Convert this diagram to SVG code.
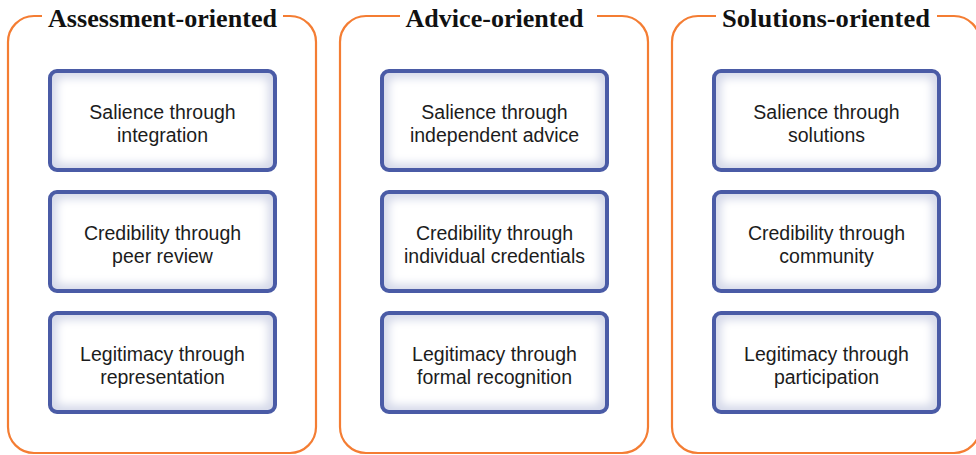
<svg xmlns="http://www.w3.org/2000/svg" width="976" height="455" viewBox="0 0 976 455">
  <style>
    .panel { fill: none; stroke: #f47d33; stroke-width: 2.2; }
    .title { font-family: "Liberation Serif", "DejaVu Serif", serif; font-weight: bold; font-size: 25px; fill: #111; text-anchor: middle; }
    .base { fill: #d6daea; }
    .glow { fill: #ffffff; filter: url(#soft); }
    .edge { fill: none; stroke: #4a5ba6; stroke-width: 4; }
    .label { font-family: "Liberation Sans", "DejaVu Sans", sans-serif; font-size: 19.5px; fill: #1c1c1c; text-anchor: middle; }
  </style>
  <defs>
    <filter id="soft" x="-10%" y="-20%" width="120%" height="140%">
      <feGaussianBlur stdDeviation="4.5"/>
    </filter>
    <!-- one card: shaded base, blurred white centre, blue rim -->
    <g id="card">
      <rect class="base" x="0" y="0" width="225" height="99" rx="7"/>
      <rect class="glow" x="7" y="7" width="211" height="85" rx="6"/>
      <rect class="edge" x="0" y="0" width="225" height="99" rx="7"/>
    </g>
  </defs>

  <rect width="976" height="455" fill="#ffffff"/>

  <!-- Column 1 -->
  <g id="assessment">
    <path class="panel" d="M283 16 H290 A26 26 0 0 1 316 42 V427 A26 26 0 0 1 290 453 H34 A26 26 0 0 1 8 427 V42 A26 26 0 0 1 34 16 H42"/>
    <text class="title" x="162.5" y="27" textLength="229" lengthAdjust="spacingAndGlyphs">Assessment-oriented</text>
    <g id="a-salience">
      <use href="#card" x="50" y="71"/>
      <text class="label" x="162.5" y="119">Salience through</text>
      <text class="label" x="162.5" y="142">integration</text>
    </g>
    <g id="a-credibility">
      <use href="#card" x="50" y="192"/>
      <text class="label" x="162.5" y="240">Credibility through</text>
      <text class="label" x="162.5" y="263">peer review</text>
    </g>
    <g id="a-legitimacy">
      <use href="#card" x="50" y="313"/>
      <text class="label" x="162.5" y="361">Legitimacy through</text>
      <text class="label" x="162.5" y="384">representation</text>
    </g>
  </g>

  <!-- Column 2 -->
  <g id="advice">
    <path class="panel" d="M597 16 H622 A26 26 0 0 1 648 42 V427 A26 26 0 0 1 622 453 H366 A26 26 0 0 1 340 427 V42 A26 26 0 0 1 366 16 H400"/>
    <text class="title" x="494.5" y="27" textLength="178" lengthAdjust="spacingAndGlyphs">Advice-oriented</text>
    <g id="b-salience">
      <use href="#card" x="382" y="71"/>
      <text class="label" x="494.5" y="119">Salience through</text>
      <text class="label" x="494.5" y="142">independent advice</text>
    </g>
    <g id="b-credibility">
      <use href="#card" x="382" y="192"/>
      <text class="label" x="494.5" y="240">Credibility through</text>
      <text class="label" x="494.5" y="263">individual credentials</text>
    </g>
    <g id="b-legitimacy">
      <use href="#card" x="382" y="313"/>
      <text class="label" x="494.5" y="361">Legitimacy through</text>
      <text class="label" x="494.5" y="384">formal recognition</text>
    </g>
  </g>

  <!-- Column 3 -->
  <g id="solutions">
    <path class="panel" d="M937 16 H954 A26 26 0 0 1 980 42 V427 A26 26 0 0 1 954 453 H698 A26 26 0 0 1 672 427 V42 A26 26 0 0 1 698 16 H716"/>
    <text class="title" x="826" y="27" textLength="208" lengthAdjust="spacingAndGlyphs">Solutions-oriented</text>
    <g id="c-salience">
      <use href="#card" x="714" y="71"/>
      <text class="label" x="826.5" y="119">Salience through</text>
      <text class="label" x="826.5" y="142">solutions</text>
    </g>
    <g id="c-credibility">
      <use href="#card" x="714" y="192"/>
      <text class="label" x="826.5" y="240">Credibility through</text>
      <text class="label" x="826.5" y="263">community</text>
    </g>
    <g id="c-legitimacy">
      <use href="#card" x="714" y="313"/>
      <text class="label" x="826.5" y="361">Legitimacy through</text>
      <text class="label" x="826.5" y="384">participation</text>
    </g>
  </g>
</svg>
